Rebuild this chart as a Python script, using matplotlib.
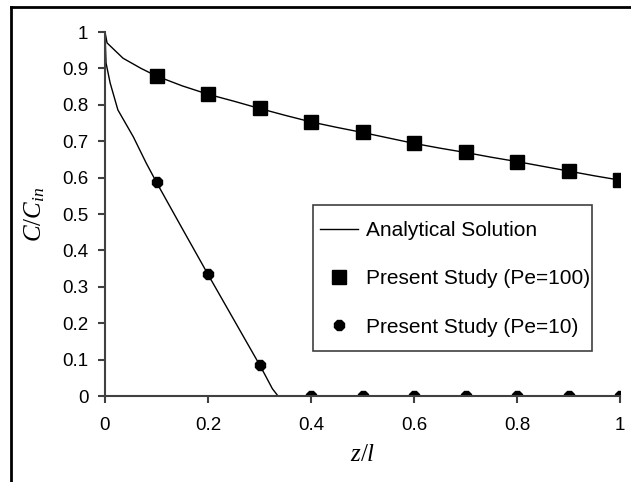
import numpy as np
import matplotlib
matplotlib.use("Agg")
import matplotlib.pyplot as plt
from matplotlib.lines import Line2D
from matplotlib.patches import Rectangle

plt.rcParams['font.family'] = ['Liberation Sans', 'DejaVu Sans']
plt.rcParams['mathtext.fontset'] = 'custom'
plt.rcParams['mathtext.it'] = 'Liberation Serif:italic'
plt.rcParams['mathtext.rm'] = 'Liberation Serif'

# Present study points
z_pts = [0.1, 0.2, 0.3, 0.4, 0.5, 0.6, 0.7, 0.8, 0.9, 1.0]
c_pe100 = [0.879, 0.829, 0.790, 0.753, 0.724, 0.694, 0.669, 0.644, 0.618, 0.593]
c_pe10 = [0.587, 0.334, 0.086, 0.0, 0.0, 0.0, 0.0, 0.0, 0.0, 0.0]

# Analytical solution
z_an100 = [0.0, 0.004, 0.035, 0.07, 0.1, 0.15, 0.2, 0.25, 0.3, 0.35, 0.4, 0.45,
           0.5, 0.55, 0.6, 0.65, 0.7, 0.75, 0.8, 0.85, 0.9, 0.95, 1.0]
c_an100 = [1.0, 0.97, 0.928, 0.90, 0.879, 0.852, 0.829, 0.81, 0.790, 0.771, 0.753, 0.738,
           0.724, 0.709, 0.694, 0.681, 0.669, 0.656, 0.644, 0.631, 0.618, 0.605, 0.593]
z_an10 = [0.0, 0.002, 0.01, 0.025, 0.055, 0.08, 0.1, 0.15, 0.2, 0.25, 0.3, 0.31,
          0.325, 0.336]
c_an10 = [1.0, 0.915, 0.86, 0.786, 0.712, 0.64, 0.587, 0.46, 0.334, 0.21, 0.086, 0.06,
          0.02, 0.0]

fig = plt.figure(figsize=(6.31, 4.82), dpi=100)
ax = fig.add_axes([0.1664, 0.1784, 0.8162, 0.7552])

ax.plot(z_an100, c_an100, color='black', lw=1.0, label='Analytical Solution')
ax.plot(z_an10, c_an10, color='black', lw=1.0)
ax.plot(z_pts, c_pe100, ls='none', marker='s', ms=9.5, color='black',
        label='Present Study (Pe=100)')
ax.plot(z_pts, c_pe10, ls='none', marker='8', ms=8.5, color='black',
        label='Present Study (Pe=10)')

ax.set_xlim(0, 1)
ax.set_ylim(0, 1)
ax.set_xticks([0, 0.2, 0.4, 0.6, 0.8, 1])
ax.set_xticklabels(['0', '0.2', '0.4', '0.6', '0.8', '1'])
ax.set_yticks(np.arange(0, 1.01, 0.1))
ax.set_yticklabels(['0', '0.1', '0.2', '0.3', '0.4', '0.5', '0.6', '0.7', '0.8', '0.9', '1'])

for side in ['top', 'right']:
    ax.spines[side].set_visible(False)
for side in ['left', 'bottom']:
    ax.spines[side].set_color('#404040')
    ax.spines[side].set_linewidth(1.5)
ax.tick_params(axis='both', direction='out', length=5, width=1.5, color='#404040',
               labelsize=13.5)
ax.tick_params(axis='y', pad=7)
ax.tick_params(axis='x', pad=10)

ax.set_xlabel(r'$z/l$', fontsize=18, labelpad=6)
ax.set_ylabel(r'$C/C_{in}$', fontsize=18, labelpad=11)

# legend: entries without frame, box drawn separately
leg = ax.legend(loc='upper left', bbox_to_anchor=(0.4175, 0.481), fontsize=15,
                frameon=False, borderpad=0, labelspacing=1.41, handlelength=1.83,
                handletextpad=0.38, borderaxespad=0)
ax.add_patch(Rectangle((0.404, 0.124), 0.542, 0.401, transform=ax.transAxes,
                       fill=False, edgecolor='#404040', lw=1.2, zorder=5))

# figure frame (left and top edges)
fig.add_artist(Line2D([11 / 631, 11 / 631], [0, 1 - 7 / 482], color='black', lw=2,
                      transform=fig.transFigure))
fig.add_artist(Line2D([11 / 631, 1], [1 - 7 / 482, 1 - 7 / 482], color='black', lw=2,
                      transform=fig.transFigure))

fig.savefig('out.png', dpi=100)
